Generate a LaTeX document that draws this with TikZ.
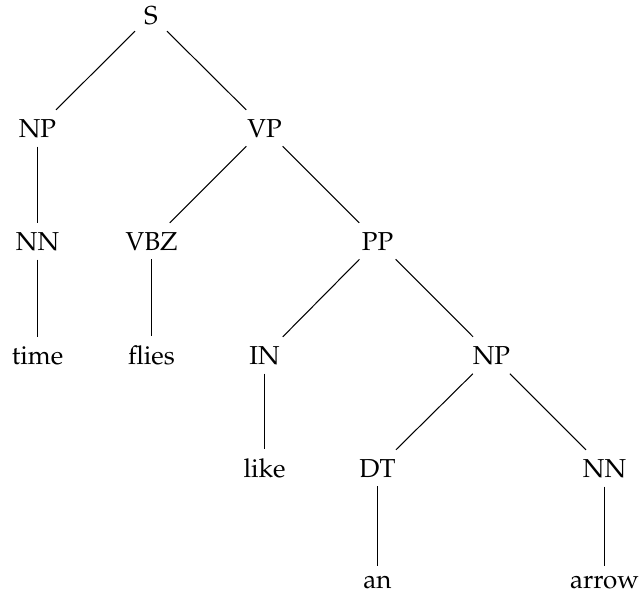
\documentclass[tikz,border=0pt]{standalone}
\usepackage[T1]{fontenc}
\usepackage{mathpazo}
\usepackage{tikz}

\begin{document}
\begin{tikzpicture}[x=0.385pt, y=0.385pt]
\tikzstyle{label} = [anchor=base, inner sep=0.3333em, font=\fontsize{10}{12}\selectfont]
\tikzstyle{branch} = [black, line width=0.4pt]

\useasboundingbox (0,0) rectangle (639,-596);

\node (s) [label] at (151,-24) {S};
\node (np) [label] at (37.5,-137) {NP};
\node (vp) [label] at (264.5,-137) {VP};
\node (nn) [label] at (37.5,-250) {NN};
\node (vbz) [label] at (151.5,-250) {VBZ};
\node (pp) [label] at (377.5,-250) {PP};
\node (time) [label] at (37.5,-364) {time};
\node (flies) [label] at (151.5,-364) {flies};
\node (in) [label] at (264.5,-364) {IN};
\node (npb) [label] at (491.5,-364) {NP};
\node (like) [label] at (264.5,-477) {like};
\node (dt) [label] at (377.5,-477) {DT};
\node (nnb) [label] at (604.5,-477) {NN};
\node (an) [label] at (377.5,-588) {an};
\node (arrow) [label] at (604.5,-588) {arrow};

\draw [branch] (s) -- (np);
\draw [branch] (s) -- (vp);
\draw [branch] (np) -- (nn);
\draw [branch] (nn) -- (time);
\draw [branch] (vp) -- (vbz);
\draw [branch] (vp) -- (pp);
\draw [branch] (vbz) -- (flies);
\draw [branch] (pp) -- (in);
\draw [branch] (pp) -- (npb);
\draw [branch] (in) -- (like);
\draw [branch] (npb) -- (dt);
\draw [branch] (npb) -- (nnb);
\draw [branch] (dt) -- (an);
\draw [branch] (nnb) -- (arrow);

\end{tikzpicture}
\end{document}
